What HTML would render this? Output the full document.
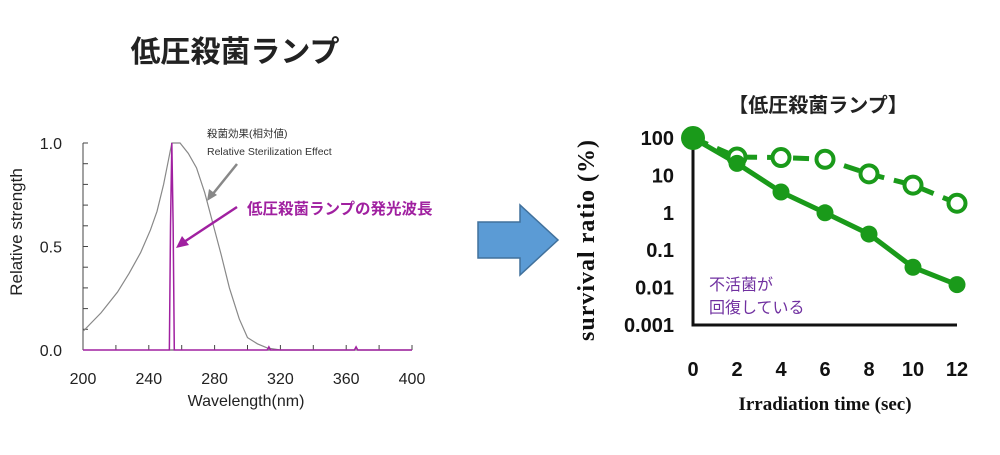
<!DOCTYPE html>
<html><head><meta charset="utf-8"><style>
body{margin:0;background:#fff;width:1000px;height:450px;overflow:hidden}
svg text{font-family:"Liberation Sans","Noto Sans CJK JP",sans-serif}
svg text.serif{font-family:"Liberation Serif","Noto Serif CJK SC",serif}
</style></head><body>
<svg width="1000" height="450" viewBox="0 0 1000 450">
<text x="235" y="62" font-size="30" font-weight="bold" fill="#222" text-anchor="middle">低圧殺菌ランプ</text>
<g id="left"></g>
<path d="M478 222 L520 222 L520 205 L558 240 L520 275 L520 258 L478 258 Z" fill="#5b9bd5" stroke="#41719c" stroke-width="1.5"/>
<text x="818" y="112" font-size="20" font-weight="bold" fill="#222" text-anchor="middle">【低圧殺菌ランプ】</text>
<g id="right"></g>
</svg>
<script>
const NS="http://www.w3.org/2000/svg";
function mk(p,t,a,txt){const e=document.createElementNS(NS,t);for(const k in a)e.setAttribute(k,a[k]);if(txt!==undefined)e.textContent=txt;p.appendChild(e);return e;}
// Left chart data
const wlTicks=[200,240,280,320,360,400];
const strTicks=[0.0,0.5,1.0];
const effectWl=[200,211,221,228,235,241,245,249,252,254,259,264,269,274,279,284,289,295,300,306,312,320,400];
const effectVal=[0.09,0.18,0.28,0.37,0.47,0.58,0.67,0.80,0.92,1.0,1.0,0.95,0.88,0.76,0.61,0.46,0.30,0.15,0.06,0.03,0.01,0,0];
const lampWl=[200,252.5,253.2,254,254.8,255.5,312,313,314,365,366,367,400];
const lampVal=[0,0,0.6,1.0,0.6,0,0,0.015,0,0,0.015,0,0];
const L=document.getElementById('left');
const lx=v=>83+(v-200)/200*329, ly=v=>350-v*207;
let a=mk(L,'line',{x1:83,y1:143,x2:83,y2:350,stroke:'#444','stroke-width':1});

a=mk(L,'line',{x1:83,y1:350,x2:412,y2:350,stroke:'#444','stroke-width':1});

for(let v=0;v<=1.001;v+=0.1){mk(L,'line',{x1:83,y1:ly(v),x2:88,y2:ly(v),stroke:'#444'});}
for(let w=200;w<=400;w+=20){mk(L,'line',{x1:lx(w),y1:350,x2:lx(w),y2:345,stroke:'#444'});}
strTicks.forEach(v=>{const t=mk(L,'text',{x:62,y:ly(v)+6,'font-size':16,'text-anchor':'end',fill:'#222'},v.toFixed(1));
});
wlTicks.forEach(v=>{const t=mk(L,'text',{x:lx(v),y:384,'font-size':16,'text-anchor':'middle',fill:'#222'},v);
});
a=mk(L,'text',{x:246,y:406,'font-size':16,'text-anchor':'middle',fill:'#222'},'Wavelength(nm)');

a=mk(L,'text',{x:0,y:0,'font-size':17,'text-anchor':'middle',fill:'#222',transform:'translate(22,232) rotate(-90)'},'Relative strength');

a=mk(L,'polyline',{points:effectWl.map((w,i)=>lx(w)+','+ly(effectVal[i])).join(' '),fill:'none',stroke:'#888','stroke-width':1.2});

a=mk(L,'polyline',{points:lampWl.map((w,i)=>lx(w)+','+ly(lampVal[i])).join(' '),fill:'none',stroke:'#a020a0','stroke-width':1.5});

a=mk(L,'text',{x:207,y:137,'font-size':10.5,fill:'#333'},'殺菌効果(相対値)');

a=mk(L,'text',{x:207,y:155,'font-size':10.5,fill:'#333'},'Relative Sterilization Effect');

mk(L,'line',{x1:237,y1:164,x2:212,y2:195,stroke:'#888','stroke-width':2.5});
mk(L,'path',{d:'M207 201 L209 189 L217 195 Z',fill:'#888'});
a=mk(L,'text',{x:247,y:214,'font-size':15.5,'font-weight':'bold',fill:'#a020a0'},'低圧殺菌ランプの発光波長');

mk(L,'line',{x1:237,y1:207,x2:184,y2:242,stroke:'#a020a0','stroke-width':2.5});
mk(L,'path',{d:'M176 248 L182 236 L189 245 Z',fill:'#a020a0'});
// Right chart data
const times=[0,2,4,6,8,10,12];
const xTicks=[0,2,4,6,8,10,12];
const yTicks=['100','10','1','0.1','0.01','0.001'];
const yTickVals=[100,10,1,0.1,0.01,0.001];
const solidVals=[100,21,3.6,1.0,0.27,0.035,0.012];
const openTimes=[2,4,6,8,10,12];
const openVals=[31,30,27,11,5.5,1.8];
const R=document.getElementById('right');
const rx=t=>693+t/12*264, ry=v=>138+(2-Math.log10(v))*37.4;
const G='#1a9a1a';
a=mk(R,'polyline',{points:'693,140 693,325 957,325',fill:'none',stroke:'#111','stroke-width':3});

yTicks.forEach((s,i)=>{const t=mk(R,'text',{x:674,y:ry(yTickVals[i])+7,'font-size':20,'font-weight':'bold','text-anchor':'end',fill:'#111'},s);
});
xTicks.forEach(v=>{const t=mk(R,'text',{x:rx(v),y:376,'font-size':20,'font-weight':'bold','text-anchor':'middle',fill:'#111'},v);
});
a=mk(R,'text',{x:825,y:410,'font-size':19,'font-weight':'bold','text-anchor':'middle',fill:'#111','class':'serif'},'Irradiation time (sec)');

a=mk(R,'text',{x:0,y:0,'font-size':24,'font-weight':'bold','text-anchor':'middle',fill:'#111','class':'serif','letter-spacing':'1',transform:'translate(594,240) rotate(-90)'},'survival ratio (%)');

a=mk(R,'polyline',{points:[[0,100]].concat(openTimes.map((t,i)=>[t,openVals[i]])).map(p=>rx(p[0])+','+ry(p[1])).join(' '),fill:'none',stroke:G,'stroke-width':5,'stroke-dasharray':'16,10'});

a=mk(R,'polyline',{points:times.map((t,i)=>rx(t)+','+ry(solidVals[i])).join(' '),fill:'none',stroke:G,'stroke-width':5});

openTimes.forEach((t,i)=>{const c=mk(R,'circle',{cx:rx(t),cy:ry(openVals[i]),r:8.5,fill:'#fff',stroke:G,'stroke-width':4});
});
times.forEach((t,i)=>{const c=mk(R,'circle',{cx:rx(t),cy:ry(solidVals[i]),r:i==0?12:8.5,fill:G});
});
a=mk(R,'text',{x:709,y:290,'font-size':16,fill:'#7030a0'},'不活菌が');

a=mk(R,'text',{x:709,y:313,'font-size':16,fill:'#7030a0'},'回復している');

</script>
</body></html>
